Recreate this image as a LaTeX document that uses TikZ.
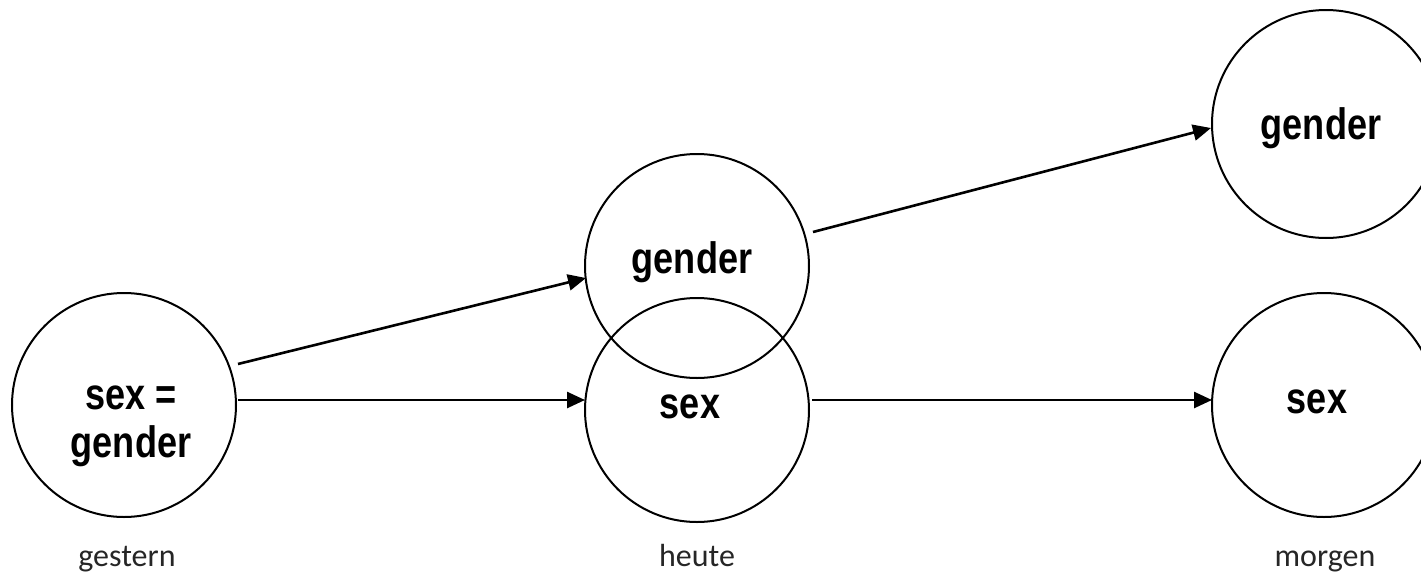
\documentclass[tikz,border=0pt]{standalone}
\usepackage{fontspec}
\usetikzlibrary{arrows.meta,calc}
\newfontfamily\condfont[FakeStretch=0.82]{Liberation Sans Bold}
\newfontfamily\labfont{Carlito}
\begin{document}
\begin{tikzpicture}[x=0.5pt,y=-0.5pt,
  ring/.style={draw, line width=1pt, circle, minimum size=112pt, inner sep=0pt},
  word/.style={font=\condfont\fontsize{22}{24}\selectfont, inner sep=0pt, anchor=base, align=center},
  daylab/.style={font=\labfont\fontsize{16}{18}\selectfont, text=black!85, inner sep=0pt, anchor=base},
  conn/.style={line width=1.3pt, -{Triangle[length=9pt,width=8pt]}}]
\useasboundingbox (0,0) rectangle (1421,574);
\node[ring] (L) at (124,405) {};
\node[ring] (MT) at (697,266) {};
\node[ring] (MB) at (697,410) {};
\node[ring, minimum size=114pt] (RT) at (1326,124) {};
\node[ring] (RB) at (1324,405) {};
\node[word] (tL1) at (131,409) {sex =};
\node[word] (tL2) at (131,457) {gender};
\node[word] (tMT) at (692,273) {gender};
\node[word] (tMB) at (690,418) {sex};
\node[word] (tRT) at (1321,139) {gender};
\node[word] (tRB) at (1317,413) {sex};
\node[daylab] (g) at (127,566) {gestern};
\node[daylab] (h) at (697,566) {heute};
\node[daylab] (m) at (1325,566) {morgen};
\draw[conn] ($(L.center)+(114,-41)$) -- ($(MT.center)+(-111,12)$);
\draw[conn] ($(L.center)+(114,-5)$) -- ($(MB.center)+(-112,-10)$);
\draw[conn] ($(MT.center)+(116,-34)$) -- ($(RT.center)+(-115,4)$);
\draw[conn] ($(MB.center)+(115,-10)$) -- ($(RB.center)+(-112,-5)$);
\end{tikzpicture}
\end{document}
